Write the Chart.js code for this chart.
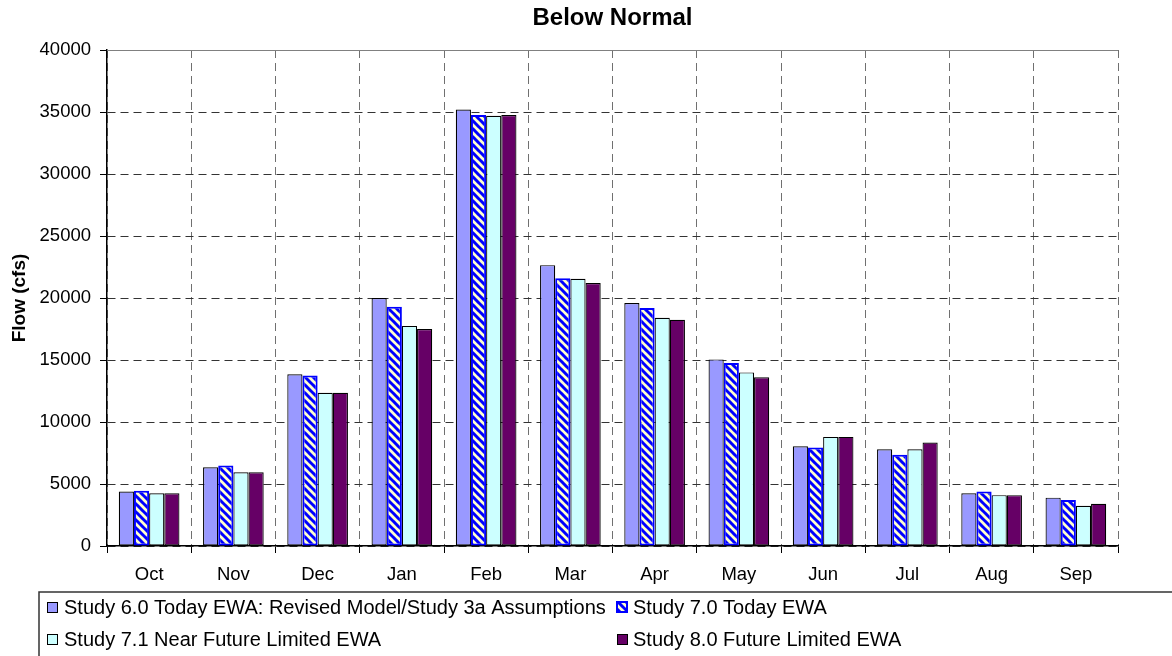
<!DOCTYPE html>
<html>
<head>
<meta charset="utf-8">
<script src="https://cdn.jsdelivr.net/npm/chart.js@4.4.1/dist/chart.umd.min.js"></script>
<style>
  body { margin: 0; background: #fff; }
  canvas { display: block; }
</style>
</head>
<body>
<canvas id="myChart" width="1172" height="656"></canvas>
<script>
// data
const months = ['Oct', 'Nov', 'Dec', 'Jan', 'Feb', 'Mar', 'Apr', 'May', 'Jun', 'Jul', 'Aug', 'Sep'];
const study60 = [4400, 6350, 13850, 20000, 35200, 22650, 19600, 15050, 8050, 7800, 4250, 3900];
const study70 = [4450, 6500, 13750, 19300, 34750, 21600, 19200, 14750, 7950, 7350, 4400, 3700];
const study71 = [4250, 5950, 12350, 17750, 34700, 21550, 18400, 14000, 8800, 7800, 4100, 3250];
const study80 = [4250, 5950, 12350, 17500, 34750, 21200, 18250, 13600, 8800, 8350, 4100, 3400];
const seriesNames = [
  'Study 6.0 Today EWA: Revised Model/Study 3a Assumptions',
  'Study 7.0 Today EWA',
  'Study 7.1 Near Future Limited EWA',
  'Study 8.0 Future Limited EWA'
];
const yTicks = [0, 5000, 10000, 15000, 20000, 25000, 30000, 35000, 40000];

const FONT = 'Arial, "Liberation Sans", sans-serif';

// hatch for study 7.0 (blue stripes on pale yellow)
const makeHatch = () => {
  const c = document.createElement('canvas');
  c.width = 8; c.height = 8;
  const g = c.getContext('2d');
  g.fillStyle = '#FFFFCC';
  g.fillRect(0, 0, 8, 8);
  g.strokeStyle = '#0000FF';
  g.lineWidth = 3;
  for (let k = -8; k <= 8; k += 8) {
    g.beginPath();
    g.moveTo(k - 1, -1);
    g.lineTo(k + 9, 9);
    g.stroke();
  }
  return g.createPattern(c, 'repeat');
};
const hatch = makeHatch();

const fills = ['#9999FF', hatch, '#CCFFFF', '#660066'];
const borders = ['#000000', '#0000FF', '#000000', '#000000'];
const borderW = [1.2, 2, 1.2, 1.2];

// legend box under the plot + solid top frame line
const extras = {
  id: 'extras',
  afterDraw(chart) {
    const { ctx, chartArea } = chart;
    ctx.save();
    ctx.strokeStyle = '#808080';
    ctx.lineWidth = 1;
    ctx.beginPath();
    ctx.moveTo(chartArea.left, chartArea.top + 0.5);
    ctx.lineTo(chartArea.right, chartArea.top + 0.5);
    ctx.stroke();

    ctx.strokeStyle = '#333333';
    ctx.lineWidth = 1.5;
    ctx.strokeRect(39, 592, 1200, 120);

    const cols = [[47, 64], [617, 633], [47, 64], [617, 633]];
    const rows = [607, 607, 639, 639];
    ctx.font = '20px ' + FONT;
    ctx.textBaseline = 'middle';
    ctx.textAlign = 'left';
    chart.data.datasets.forEach((ds, i) => {
      const mx = cols[i][0], my = rows[i];
      if (i === 1) {
        ctx.fillStyle = ds.backgroundColor;
        ctx.fillRect(mx - 1, my - 6, 12, 12);
        ctx.strokeStyle = '#0000FF';
        ctx.lineWidth = 2;
        ctx.strokeRect(mx, my - 5, 10, 10);
      } else {
        ctx.fillStyle = ds.backgroundColor;
        ctx.fillRect(mx, my - 5, 10, 10);
        ctx.strokeStyle = '#000000';
        ctx.lineWidth = 1;
        ctx.strokeRect(mx + 0.5, my - 4.5, 10, 10);
      }
      ctx.fillStyle = '#000000';
      ctx.fillText(ds.label, cols[i][1], my + 1);
    });
    ctx.restore();
  }
};

new Chart(document.getElementById('myChart'), {
  type: 'bar',
  data: {
    labels: months,
    datasets: [study60, study70, study71, study80].map((d, i) => ({
      label: seriesNames[i],
      data: d,
      backgroundColor: fills[i],
      borderColor: borders[i],
      borderWidth: borderW[i],
      borderSkipped: false,
      categoryPercentage: 0.72,
      barPercentage: 1.0
    }))
  },
  options: {
    responsive: false,
    animation: false,
    layout: { padding: { left: 0, right: 54, top: 0, bottom: 0 } },
    plugins: {
      legend: { display: false },
      tooltip: { enabled: false },
      title: {
        display: true,
        text: 'Below Normal',
        fullSize: false,
        color: '#000',
        font: { family: FONT, size: 24, weight: 'bold' },
        padding: { top: 4, bottom: 17.2 }
      }
    },
    scales: {
      x: {
        afterFit: (scale) => { scale.height = 110; },
        grid: {
          color: '#707070',
          lineWidth: 1,
          tickLength: 7,
          tickColor: '#000',
          tickBorderDash: []
        },
        border: { display: true, color: '#000', width: 1.5, dash: [8, 5] },
        ticks: {
          color: '#000',
          font: { family: FONT, size: 18.5 },
          padding: 11,
          maxRotation: 0
        }
      },
      y: {
        min: 0,
        max: 40000,
        afterFit: (scale) => { scale.width = 107; },
        afterBuildTicks: (scale) => { scale.ticks = yTicks.map(v => ({ value: v })); },
        grid: {
          color: (c) => (c.tick && c.tick.value === 40000 ? 'rgba(0,0,0,0)' : '#333333'),
          lineWidth: 1,
          tickLength: 7,
          tickColor: '#000',
          tickBorderDash: []
        },
        border: { display: true, color: '#000', width: 1.5, dash: [8, 5] },
        ticks: {
          color: '#000',
          font: { family: FONT, size: 18.5 },
          padding: 9,
          callback: (v) => String(v)
        },
        title: {
          display: true,
          text: 'Flow (cfs)',
          color: '#000',
          font: { family: FONT, size: 19, weight: 'bold' },
          padding: { top: 8, bottom: 0 }
        }
      }
    }
  },
  plugins: [extras]
});
</script>
</body>
</html>
